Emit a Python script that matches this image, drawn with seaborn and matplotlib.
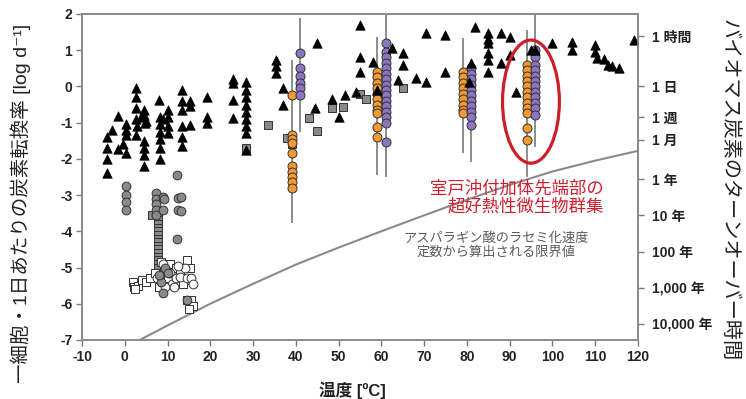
import numpy as np
import pandas as pd
import matplotlib
matplotlib.use("Agg")
import matplotlib.pyplot as plt
import seaborn as sns
from matplotlib.patches import Ellipse

# ---------------- data ----------------
# black triangles: temperature [°C], rate [log d^-1]
tri_t = [-4.2, -4.2, -4.2, -4.2, -3.0, -1.6, -1.6, 0.2, 0.2, 0.2, 0.2, -0.5,
         2.6, 2.6, 2.6, 2.6, 2.8, 2.6, 3.8, 4.4, 4.4, 4.8, 4.4, 4.4, 4.4, 4.4, 5.0,
         8.0, 8.2, 8.2, 8.2, 8.2, 8.2, 8.2, 9.0,
         10.0, 10.0, 10.0, 10.0,
         13.3, 13.3, 13.3, 13.3, 13.3, 13.3,
         15.2, 15.2, 15.2, 19.2, 19.2, 19.2,
         25.2, 25.2, 25.2, 25.2,
         28.3, 28.3, 28.3, 28.3, 28.3, 28.3, 28.3, 28.3, 28.3,
         35.3, 35.3, 35.3, 37.0, 37.0,
         45.0, 44.4, 48.4, 50.0, 51.4,
         55.0, 55.0, 55.0, 54.0, 58.0, 59.0,
         62.4, 64.0, 65.0, 65.0, 68.0, 70.5, 70.5,
         75.0, 75.0, 80.6, 81.0, 82.0,
         85.0, 85.0, 85.0, 85.0, 85.0, 85.0,
         88.0, 88.0, 90.0, 90.0, 91.5, 95.0, 96.0,
         100.0, 104.7, 104.7, 110.0, 110.0, 110.5, 112.0, 113.0, 114.0, 115.7, 119.0]
tri_v = [-1.4, -1.7, -2.0, -2.4, -1.2, -0.82, -1.73, -1.05, -1.2, -1.35, -1.85, -1.6,
         -0.05, -0.3, -0.6, -0.9, -1.1, -1.35, -0.85, -0.65, -0.8, -1.0, -1.5, -1.7, -1.9, -2.2, -0.95,
         -0.38, -0.85, -1.05, -1.25, -1.45, -1.7, -2.0, -0.9,
         -0.65, -0.85, -1.1, -1.3,
         -0.1, -0.4, -0.65, -1.1, -1.4, -1.65,
         -0.4, -0.55, -1.07, -0.3, -0.85, -1.0,
         0.2, 0.1, -0.38, -0.88,
         0.13, -0.1, -0.3, -0.5, -0.7, -0.9, -1.1, -1.3, -1.76,
         0.73, 0.55, 0.37, -0.05, -0.5,
         1.2, -0.6, -0.35, -0.85, -0.24,
         1.7, 0.8, 0.4, -0.15, 0.67, -0.1,
         1.05, 0.17, 0.92, 0.6, 0.23, 1.47, 0.12,
         1.42, 0.4, 0.12, 0.65, 1.64,
         1.47, 1.3, 1.2, 0.92, 0.73, 0.4,
         1.47, 0.65, 1.37, 0.87, -0.15, 1.0, 1.0,
         1.2, 1.23, 1.0, 1.14, 0.95, 0.78, 0.75, 0.6, 0.55, 0.5, 1.28]

# grey squares (mid temperatures)
sqg_t = [28.3, 33.5, 38.0, 39.0, 43.0, 45.0, 48.5, 51.0, 55.0, 56.5, 60.0, 65.0]
sqg_v = [-1.7, -1.07, -1.42, -1.6, -0.87, -1.22, -0.6, -0.56, -0.2, -0.35, -0.37, -0.04]

# grey squares (vertical stack near 8 °C)
stack_t = [6.3, 7.8, 7.8, 7.8, 7.8, 7.8, 7.8, 7.8, 7.8, 7.8, 7.8, 7.8, 7.8, 7.8, 7.8, 7.8, 7.8]
stack_v = [-3.55, -3.5, -3.6, -3.7, -3.8, -3.9, -4.0, -4.1, -4.2, -4.3, -4.4, -4.5,
           -4.6, -4.7, -4.8, -4.9, -5.0]

# grey circles (low temperatures)
circg_t = [0.2, 0.2, 0.2, 0.2, 7.3, 7.3, 7.3, 7.3, 7.3, 8.9, 8.9, 9.2,
           12.1, 12.4, 13.2, 12.4, 13.2, 12.1, 8.5, 9.0, 9.5, 10.0, 14.5, 8.0]
circg_v = [-2.75, -3.0, -3.2, -3.4, -2.95, -3.1, -3.25, -3.4, -3.55, -3.05, -3.4, -3.1,
           -2.45, -3.08, -3.05, -3.4, -3.45, -4.2, -5.4, -5.7, -5.0, -5.15, -5.9, -5.2]

# open squares
sqw_t = [2.0, 2.2, 3.0, 4.0, 5.0, 6.0, 7.0, 8.5, 9.2, 10.5, 11.5, 12.0, 13.0, 14.5,
         15.2, 15.0, 13.5, 10.0, 8.0, 14.5, 15.5, 16.0, 15.0, 2.5]
sqw_v = [-5.4, -5.55, -5.5, -5.35, -5.4, -5.3, -5.15, -4.85, -5.05, -4.9, -5.2, -5.0, -5.1, -4.8,
         -5.0, -5.35, -5.45, -5.3, -5.55, -5.9, -5.9, -6.05, -6.15, -5.6]

# open circles
circw_t = [9.0, 10.5, 11.0, 11.5, 12.0, 13.0, 14.0, 14.5, 15.5, 16.0, 12.5, 9.5, 7.5]
circw_v = [-4.9, -5.15, -5.45, -5.55, -5.3, -5.25, -5.0, -5.3, -5.3, -5.45, -4.95, -5.55, -5.3]

# Muroto samples (orange / purple groups)
org_x = [39.0, 59.0, 79.0, 94.0]
org_vals = [
    [-0.24, -1.35, -1.45, -1.55, -1.85, -2.2, -2.35, -2.5, -2.65, -2.8],
    [0.4, 0.25, 0.1, -0.05, -0.2, -0.35, -0.5, -0.65, -0.74, -1.12, -1.4],
    [0.4, 0.25, 0.1, -0.05, -0.2, -0.35, -0.5, -0.65, -0.74],
    [0.6, 0.45, 0.3, 0.15, 0.0, -0.15, -0.3, -0.45, -0.6, -0.74, -1.15, -1.48],
]
pur_x = [41.0, 61.0, 81.0, 96.0]
pur_vals = [
    [0.92, 0.5, 0.3, 0.1, -0.05, -0.24],
    [1.2, 0.95, 0.8, 0.65, 0.5, 0.35, 0.2, 0.05, -0.1, -0.25, -0.4, -0.55, -0.7, -0.85, -1.0, -1.53],
    [0.5, 0.35, 0.2, 0.05, -0.1, -0.25, -0.4, -0.55, -0.7, -0.85, -1.07],
    [1.0, 0.8, 0.6, 0.45, 0.3, 0.15, 0.0, -0.15, -0.3, -0.45, -0.6, -0.8],
]
# vertical range bars
bar_t = [39.0, 41.0, 59.0, 61.0, 79.0, 81.0, 94.0, 96.0]
bar_lo = [-3.77, -1.26, -2.45, -2.5, -1.84, -2.1, -2.5, -1.67]
bar_hi = [0.73, 1.9, 1.36, 2.0, 1.34, 0.6, 1.56, 2.0]

# racemization limit curve
curve_t = [3.5, 10, 20, 30, 40, 50, 60, 70, 80, 90, 100, 110, 120]
curve_v = [-7.0, -6.6, -6.0, -5.45, -4.92, -4.45, -4.0, -3.56, -3.13, -2.72, -2.35, -2.05, -1.78]

# axis ticks
x_ticks = [-10, 0, 10, 20, 30, 40, 50, 60, 70, 80, 90, 100, 110, 120]
y_ticks = [2, 1, 0, -1, -2, -3, -4, -5, -6, -7]
turn_days = [1 / 24, 1, 7, 30, 365, 3650, 36500, 365000, 3650000]
turn_labels = ["1 時間", "1 日", "1 週", "1 月", "1 年", "10 年", "100 年", "1,000 年", "10,000 年"]

# ---------------- style ----------------
sns.set_theme(style="white")
plt.rcParams["font.family"] = ["Liberation Sans", "Noto Sans CJK JP", "DejaVu Sans"]
plt.rcParams["axes.unicode_minus"] = False

fig = plt.figure(figsize=(7.46, 3.99), dpi=100)
ax = fig.add_axes([0.110, 0.148, 0.745, 0.817])

ORANGE = "#F39A32"
PURPLE = "#8C74BE"
GREY = "#8A8A8A"
EDGE = "#333333"

# range bars
ax.vlines(bar_t, bar_lo, bar_hi, color="#8c8c8c", lw=1.4, zorder=2)

# curve
sns.lineplot(x=curve_t, y=curve_v, sort=False, color="#8a8a8a", lw=1.5, ax=ax, zorder=2)

# squares / circles
sns.scatterplot(x=stack_t, y=stack_v, marker="s", s=34, color=GREY, edgecolor=EDGE,
                linewidth=0.7, ax=ax, zorder=3, legend=False)
sns.scatterplot(x=sqw_t, y=sqw_v, marker="s", s=34, color="white", edgecolor=EDGE,
                linewidth=0.7, ax=ax, zorder=3, legend=False)
sns.scatterplot(x=circw_t, y=circw_v, marker="o", s=40, color="white", edgecolor=EDGE,
                linewidth=0.7, ax=ax, zorder=3, legend=False)
sns.scatterplot(x=circg_t, y=circg_v, marker="o", s=40, color=GREY, edgecolor=EDGE,
                linewidth=0.7, ax=ax, zorder=4, legend=False)
sns.scatterplot(x=sqg_t, y=sqg_v, marker="s", s=34, color=GREY, edgecolor=EDGE,
                linewidth=0.7, ax=ax, zorder=4, legend=False)

org_df = pd.DataFrame({"t": np.repeat(org_x, [len(v) for v in org_vals]),
                       "v": np.concatenate(org_vals)})
pur_df = pd.DataFrame({"t": np.repeat(pur_x, [len(v) for v in pur_vals]),
                       "v": np.concatenate(pur_vals)})
sns.scatterplot(data=org_df, x="t", y="v", marker="o", s=42, color=ORANGE, edgecolor=EDGE,
                linewidth=0.7, ax=ax, zorder=5, legend=False)
sns.scatterplot(data=pur_df, x="t", y="v", marker="o", s=42, color=PURPLE, edgecolor=EDGE,
                linewidth=0.7, ax=ax, zorder=5, legend=False)

# triangles
sns.scatterplot(x=tri_t, y=tri_v, marker="^", s=46, color="black", edgecolor="black",
                linewidth=0.5, ax=ax, zorder=6, legend=False)

# highlight ellipse
ax.add_patch(Ellipse((95.0, -0.42), width=13.3, height=3.4, fill=False,
                     edgecolor="#CC1F2A", lw=2.3, zorder=7))

ax.text(112.1, -3.05, "室戸沖付加体先端部の\n超好熱性微生物群集", color="#D02030",
        fontsize=12.5, ha="right", va="center", multialignment="right",
        linespacing=1.15, zorder=8)
ax.text(86.9, -4.38, "アスパラギン酸のラセミ化速度\n定数から算出される限界値", color="#5a5a5a",
        fontsize=9.5, ha="center", va="center", multialignment="center",
        linespacing=1.2, zorder=8)

# axes
ax.set_xlim(-10, 120)
ax.set_ylim(-7, 2)
ax.set_xticks(x_ticks)
ax.set_xticklabels([str(t) for t in x_ticks], fontweight="bold")
ax.set_yticks(y_ticks)
ax.set_yticklabels([str(t) for t in y_ticks], fontweight="bold")
ax.tick_params(axis="both", direction="out", length=4, width=1, color="#777777",
               labelsize=10, labelcolor="#222222", left=True, bottom=True, right=False, top=False,
               pad=3)
for sp in ax.spines.values():
    sp.set_color("#8a8a8a")
    sp.set_linewidth(1.2)

ax.set_xlabel("温度 [ºC]", fontsize=12, fontweight="bold", color="#222222")
ax.xaxis.set_label_coords(0.487, -0.128)
ax.set_ylabel("一細胞・1日あたりの炭素転換率 [log d⁻¹]", fontsize=14, color="#222222")
ax.yaxis.set_label_coords(-0.092, 0.42)

ax2 = ax.twinx()
ax2.set_ylim(-7, 2)
ax2.set_yticks(list(np.log10(1 / np.array(turn_days))))
ax2.set_yticklabels(turn_labels, fontweight="bold")
ax2.tick_params(axis="y", direction="out", length=4, width=1, color="#777777",
                labelsize=10, labelcolor="#222222", right=True, pad=6)
for sp in ax2.spines.values():
    sp.set_color("#8a8a8a")
    sp.set_linewidth(1.2)
ax2.set_ylabel("バイオマス炭素のターンオーバー時間", fontsize=14.5, rotation=-90,
               color="#222222", va="center")
ax2.yaxis.set_label_coords(1.165, 0.46)

fig.savefig("out.png", dpi=100)
